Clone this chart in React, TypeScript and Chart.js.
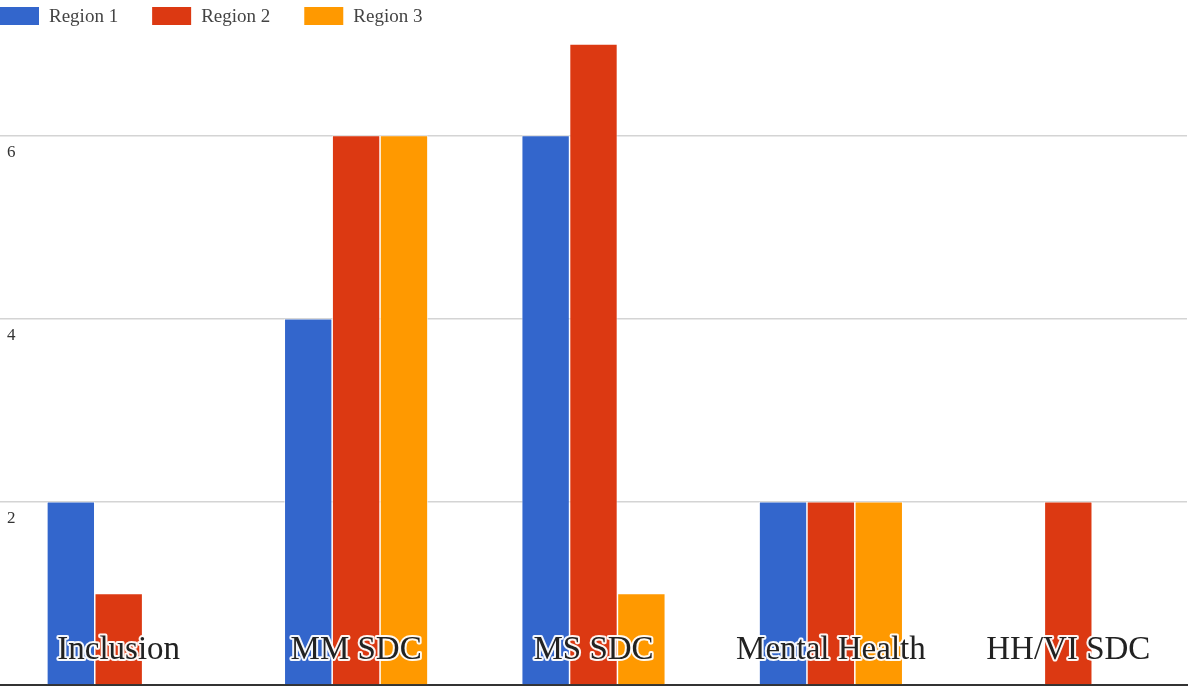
import { useEffect, useRef } from "react";
import { Chart, registerables } from "chart.js";

Chart.register(...registerables);

// Programme categories along the x axis
const categories = ["Inclusion", "MM SDC", "MS SDC", "Mental Health", "HH/VI SDC"];

// Series
const seriesNames = ["Region 1", "Region 2", "Region 3"];
const region1 = [2, 4, 6, 2, 0];
const region2 = [1, 6, 7, 2, 2];
const region3 = [0, 6, 1, 2, 0];
const seriesColors = ["#3366cc", "#dc3912", "#ff9900"];

// Value axis
const yMax = 7;
const yStep = 2;

const SERIF = "'Liberation Serif', 'Times New Roman', serif";

// Legend row in the top-left corner
const topLegend = {
  id: "topLegend",
  afterDraw(chart: any) {
    const { ctx } = chart;
    ctx.save();
    ctx.font = `19px ${SERIF}`;
    ctx.textBaseline = "alphabetic";
    ctx.textAlign = "left";
    let x = 0;
    chart.data.datasets.forEach((ds: any) => {
      ctx.fillStyle = ds.backgroundColor;
      ctx.fillRect(x, 7, 39, 18);
      ctx.fillStyle = "#444444";
      const tx = x + 49;
      ctx.fillText(ds.label, tx, 22);
      x = tx + ctx.measureText(ds.label).width + 34;
    });
    ctx.restore();
  },
};

// Category names drawn over the bars with a white halo
const categoryLabels = {
  id: "categoryLabels",
  afterDatasetsDraw(chart: any) {
    const { ctx, chartArea } = chart;
    const xScale = chart.scales.x;
    ctx.save();
    ctx.font = `33px ${SERIF}`;
    ctx.textAlign = "center";
    ctx.textBaseline = "alphabetic";
    ctx.lineJoin = "round";
    ctx.lineWidth = 4;
    ctx.strokeStyle = "rgba(255,255,255,0.95)";
    ctx.fillStyle = "#222222";
    (chart.data.labels as string[]).forEach((label, i) => {
      const px = xScale.getPixelForValue(i);
      const py = chartArea.bottom - 26;
      ctx.strokeText(label, px, py);
      ctx.fillText(label, px, py);
    });
    ctx.restore();
  },
};

export default function App() {
  const canvasRef = useRef<HTMLCanvasElement | null>(null);

  useEffect(() => {
    if (!canvasRef.current) return;
    const series = [region1, region2, region3];
    const chart = new Chart(canvasRef.current, {
      type: "bar",
      data: {
        labels: categories,
        datasets: seriesNames.map((name, i) => ({
          label: name,
          data: series[i],
          backgroundColor: seriesColors[i],
          borderColor: "#ffffff",
          borderWidth: 0.75,
          barPercentage: 1,
          categoryPercentage: 0.605,
        })),
      },
      options: {
        responsive: false,
        animation: false,
        devicePixelRatio: 1,
        layout: { padding: { top: 44, bottom: 8, left: 0, right: 3 } },
        plugins: {
          legend: { display: false },
          tooltip: { enabled: false },
        },
        scales: {
          x: {
            type: "category",
            afterFit(scale: any) {
              scale.height = 0;
            },
            grid: { display: false },
            ticks: { display: false },
            border: { display: true, color: "#333333", width: 2 },
          },
          y: {
            type: "linear",
            min: 0,
            max: yMax,
            afterFit(scale: any) {
              scale.width = 0;
              scale.paddingTop = 0;
              scale.paddingBottom = 0;
            },
            grid: { color: "#d4d4d4", lineWidth: 1.5, drawTicks: false },
            border: { display: false },
            ticks: {
              stepSize: yStep,
              includeBounds: false,
              mirror: true,
              padding: 7,
              labelOffset: 17,
              color: "#333333",
              font: { family: SERIF, size: 17 },
              callback: (v: any) => (Number(v) === 0 ? "" : String(v)),
            },
          },
        },
      },
      plugins: [categoryLabels, topLegend],
    });
    return () => chart.destroy();
  }, []);

  return (
    <div style={{ position: "absolute", left: 0, top: 0, width: 1190, height: 693, background: "#ffffff" }}>
      <canvas ref={canvasRef} width={1190} height={693} />
    </div>
  );
}
